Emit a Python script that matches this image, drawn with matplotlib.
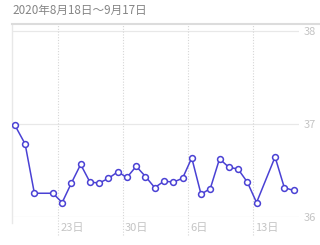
import matplotlib.pyplot as plt
import matplotlib.dates as mdates
import matplotlib.transforms as mtransforms
import pandas as pd

plt.rcParams['font.family'] = ['Noto Sans CJK JP', 'DejaVu Sans']

title = "2020年8月18日〜9月17日"

# measurement times and body temperatures
times = [
    "2020-08-18 07:40", "2020-08-19 10:00", "2020-08-20 10:00", "2020-08-22 10:00",
    "2020-08-23 10:00", "2020-08-24 10:00", "2020-08-25 10:00", "2020-08-26 10:00",
    "2020-08-27 10:00", "2020-08-28 10:00", "2020-08-29 10:00", "2020-08-30 10:00",
    "2020-08-31 10:00", "2020-09-01 10:00", "2020-09-02 10:00", "2020-09-03 10:00",
    "2020-09-04 10:00", "2020-09-05 10:00", "2020-09-06 10:00", "2020-09-07 10:00",
    "2020-09-08 10:00", "2020-09-09 10:00", "2020-09-10 10:00", "2020-09-11 10:00",
    "2020-09-12 10:00", "2020-09-13 10:00", "2020-09-15 10:00", "2020-09-16 10:00",
    "2020-09-17 10:00",
]
temps = [
    36.98, 36.78, 36.25, 36.25, 36.15, 36.36, 36.56, 36.37, 36.36, 36.41,
    36.48, 36.42, 36.54, 36.43, 36.31, 36.38, 36.37, 36.41, 36.63, 36.24,
    36.30, 36.62, 36.53, 36.51, 36.37, 36.15, 36.64, 36.31, 36.28,
]

x_start, x_end = "2020-08-18", "2020-09-18"
tick_dates = ["2020-08-23", "2020-08-30", "2020-09-06", "2020-09-13"]
tick_labels = ["23日", "30日", "6日", "13日"]
y_ticks = [36, 37, 38]

line_color = "#4a41d4"
grid_color = "#e8e8e8"
label_color = "#c4c4c4"

t = pd.to_datetime(times)
ticks = pd.to_datetime(tick_dates)

fig = plt.figure(figsize=(3.2, 2.45), dpi=100)
ax = fig.add_axes([12 / 320, 28.5 / 245, 287 / 320, 192.5 / 245])

ax.set_xlim(pd.Timestamp(x_start), pd.Timestamp(x_end))
ax.set_ylim(36, 38.07)

# horizontal grid
for yv in y_ticks:
    ax.axhline(yv, color=grid_color, lw=0.9, zorder=1)

# vertical dotted grid, running below the plot
xt = ax.get_xaxis_transform()
for d in ticks:
    ax.plot([d, d], [-0.096, 1], transform=xt, color="#d6d6d6", lw=0.8,
             ls=(0, (1, 1.5)), clip_on=False, zorder=1)

# left edge
ax.plot([0, 0], [-0.035, 1], transform=ax.transAxes, color=grid_color, lw=1,
        clip_on=False, zorder=1)

# top rule runs across to the figure edge
fig.add_artist(plt.Line2D([12 / 320, 1], [1 - 24 / 245, 1 - 24 / 245],
                          transform=fig.transFigure, color="#dcdcdc", lw=1.5))

ax.plot(t, temps, color=line_color, lw=1.1, marker="o", ms=4.2,
        mfc="white", mec=line_color, mew=1.1, zorder=3)

for s in ["left", "right", "bottom", "top"]:
    ax.spines[s].set_visible(False)

ax.yaxis.tick_right()
ax.set_yticks(y_ticks)
ax.set_yticklabels([str(v) for v in y_ticks])
ax.tick_params(axis="y", length=0, pad=3, labelsize=8, labelcolor=label_color)

ax.set_xticks(ticks)
ax.set_xticklabels(tick_labels)
ax.tick_params(axis="x", length=0, pad=5, labelsize=8, labelcolor=label_color)
offset = mtransforms.ScaledTranslation(2 / 100, 0, fig.dpi_scale_trans)
for lab in ax.get_xticklabels():
    lab.set_ha("left")
    lab.set_transform(lab.get_transform() + offset)

fig.text(12 / 320, 1 - 10 / 245, title, fontsize=8.4, color="#858585",
         ha="left", va="center")

fig.savefig("out.png", dpi=100, facecolor="white")
